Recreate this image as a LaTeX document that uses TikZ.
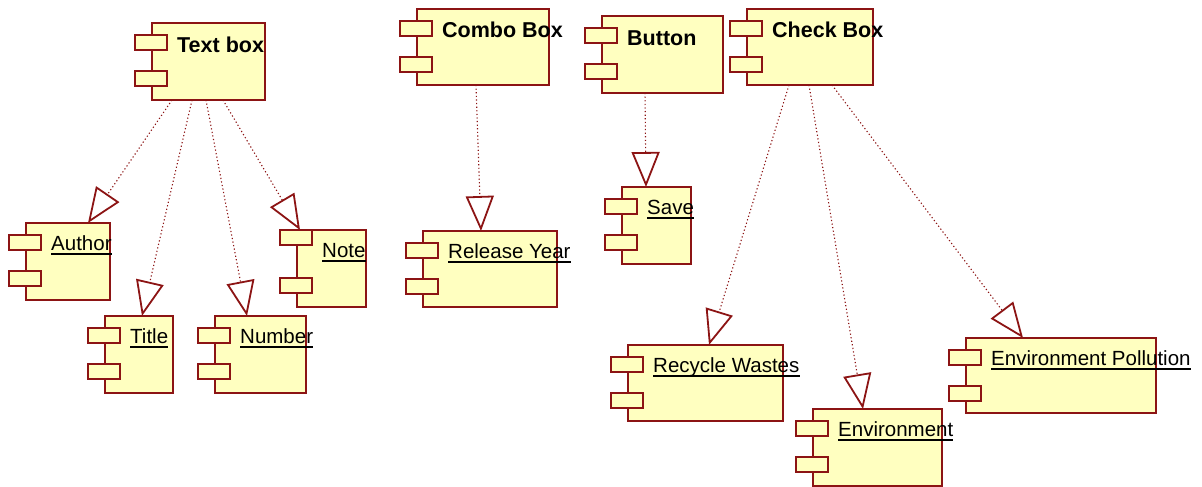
\documentclass[tikz,border=0pt]{standalone}
\usepackage{fontspec}
\setmainfont{Liberation Sans}
\usetikzlibrary{arrows.meta}

\definecolor{umlred}{RGB}{140,20,20}
\definecolor{umlfill}{RGB}{255,255,192}

\tikzset{
  compbody/.style={draw=umlred, fill=umlfill, line width=1.8pt, outer sep=0pt, inner sep=0pt},
  comptab/.style={draw=umlred, fill=umlfill, line width=1.6pt, outer sep=0pt, inner sep=0pt,
    minimum width=32pt, minimum height=15pt},
  complbl/.style={anchor=base west, inner sep=0pt, font=\fontsize{20.5}{24}\selectfont},
  uline/.style={line width=1.6pt},
  dep/.style={umlred, line width=1.1pt, dash pattern=on 1.2pt off 2.4pt,
    -{Triangle[open, length=35pt, width=28pt, line width=1.8pt]}}
}

% #1 first tab offset, #2 name, #3 top left, #4 width, #5 height, #6 label
\newcommand{\comp}[6][12]{%
  \node[compbody, minimum width=#4pt, minimum height=#5pt, anchor=north west] (#2) at (#3) {};
  \node[comptab, anchor=north west] (#2-ta) at ([xshift=-17pt,yshift=-#1pt]#2.north west) {};
  \node[comptab, anchor=north west] (#2-tb) at ([xshift=-17pt,yshift=-48pt]#2.north west) {};
  \node[complbl] (#2-l) at ([xshift=25pt,yshift=-27pt]#2.north west) {#6};
}
\newcommand{\ulabel}[1]{%
  \draw[uline] ([yshift=-4pt]#1-l.base west) -- ([yshift=-4pt]#1-l.base east);
}
\newcommand{\heading}[1]{\raisebox{-2pt}{\fontsize{21.5}{24}\selectfont\bfseries #1}}

\begin{document}
\begin{tikzpicture}[x=1pt, y=-1pt]
  \useasboundingbox (0,0) rectangle (1202,487);

  % components
  \comp{tb}{152,23}{113}{77}{\heading{Text box}}
  \comp{cb}{417,9}{132}{76}{\heading{Combo Box}}
  \comp{bt}{602,16}{121}{77}{\heading{Button}}
  \comp{ck}{747,9}{126}{76}{\heading{Check Box}}

  \comp{au}{26,223}{84}{77}{Author} \ulabel{au}
  \comp{ti}{105,316}{68}{77}{Title} \ulabel{ti}
  \comp{nu}{215,316}{91}{77}{Number} \ulabel{nu}
  \comp[0]{no}{297,230}{69}{77}{Note} \ulabel{no}
  \comp{ry}{423,231}{134}{76}{Release Year} \ulabel{ry}
  \comp{sv}{622,187}{69}{77}{Save} \ulabel{sv}
  \comp{rw}{628,345}{155}{76}{Recycle Wastes} \ulabel{rw}
  \comp{en}{813,409}{129}{77}{Environment} \ulabel{en}
  \comp{ep}{966,338}{190}{75}{Environment Pollution} \ulabel{ep}

  % dependencies
  \draw[dep] ([xshift=20pt]tb.south west) -- ([xshift=62pt]au.north west);
  \draw[dep] ([xshift=40pt]tb.south west) -- ([xshift=37pt]ti.north west);
  \draw[dep] ([xshift=54pt]tb.south west) -- ([xshift=32pt]nu.north west);
  \draw[dep] ([xshift=71pt]tb.south west) -- ([xshift=3pt]no.north west);
  \draw[dep] ([xshift=59pt]cb.south west) -- ([xshift=58pt]ry.north west);
  \draw[dep] ([xshift=43pt]bt.south west) -- ([xshift=24pt]sv.north west);
  \draw[dep] ([xshift=42pt]ck.south west) -- ([xshift=81pt]rw.north west);
  \draw[dep] ([xshift=62pt]ck.south west) -- ([xshift=50pt]en.north west);
  \draw[dep] ([xshift=85pt]ck.south west) -- ([xshift=57pt]ep.north west);
\end{tikzpicture}
\end{document}
